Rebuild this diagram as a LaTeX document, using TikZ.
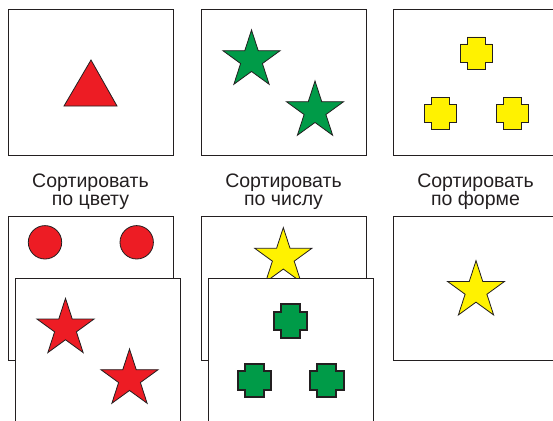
\documentclass[tikz,border=0pt]{standalone}
\usepackage{fontspec}
\setmainfont{Liberation Sans}
\definecolor{fred}{HTML}{ED1C24}
\definecolor{fgreen}{HTML}{009B48}
\definecolor{fyellow}{HTML}{FFF200}
\definecolor{lin}{HTML}{231F20}
\tikzset{
  card/.style={draw=lin, line width=1pt, fill=white},
  shp/.style={draw=lin, line width=0.8pt, line join=miter},
  lbl/.style={anchor=north, inner sep=0pt, align=center, text=lin,
    font=\fontsize{19.5}{18.5}\selectfont},
  pics/starfig/.style={code={
    \path[shp,fill=#1] (270:30) -- (306:11.46) -- (342:30) -- (18:11.46) -- (54:30)
      -- (90:11.46) -- (126:30) -- (162:11.46) -- (198:30) -- (234:11.46) -- cycle;}},
  pics/crossfig/.style={code={
    \path[shp,#1] (-9,-16) -- (9,-16) -- (9,-9) -- (16,-9) -- (16,9) -- (9,9)
      -- (9,16) -- (-9,16) -- (-9,9) -- (-16,9) -- (-16,-9) -- (-9,-9) -- cycle;}},
}
\begin{document}
\begin{tikzpicture}[x=1pt,y=-1pt]
\useasboundingbox (0,0) rectangle (553,420);
\clip (0,0) rectangle (553,420);
% top row
\draw[card] (8,10) rectangle (173,155);
\path[shp,fill=fred] (91,60) -- (117,106) -- (64,106) -- cycle;
\draw[card] (201,10) rectangle (366,155);
\pic at (251.5,60) {starfig=fgreen};
\pic at (315,111) {starfig=fgreen};
\draw[card] (393,10) rectangle (558,155);
\pic at (476,53) {crossfig={fill=fyellow}};
\pic at (440,113) {crossfig={fill=fyellow}};
\pic at (512,113) {crossfig={fill=fyellow}};
% labels
\node[lbl] (l1) at (90.5,173.5) {Сортировать\\по цвету};
\node[lbl] (l2) at (283.5,173.5) {Сортировать\\по числу};
\node[lbl] (l3) at (475.5,173.5) {Сортировать\\по форме};
% bottom left
\draw[card] (8,216) rectangle (173,360);
\path[shp,fill=fred] (45,242.3) circle (16.7);
\path[shp,fill=fred] (136.7,242.3) circle (16.7);
\draw[card] (15,278) rectangle (180,425);
\pic at (65.5,328.3) {starfig=fred};
\pic at (129.5,379) {starfig=fred};
% bottom middle
\draw[card] (201,216) rectangle (366,360);
\pic at (283.3,257.6) {starfig=fyellow};
\draw[card] (208,278) rectangle (373,425);
\pic[scale=1.05] at (290.3,321) {crossfig={fill=fgreen,line width=2pt}};
\pic[scale=1.05] at (254.3,380.3) {crossfig={fill=fgreen,line width=2pt}};
\pic[scale=1.05] at (326.7,380.3) {crossfig={fill=fgreen,line width=2pt}};
% bottom right
\draw[card] (393,216) rectangle (558,360.5);
\pic at (476,290.7) {starfig=fyellow};
\end{tikzpicture}
\end{document}
